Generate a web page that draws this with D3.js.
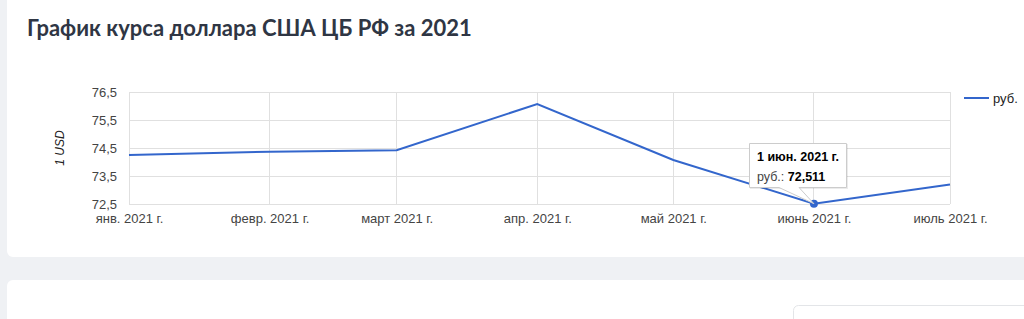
<!DOCTYPE html>
<html>
<head>
<meta charset="utf-8">
<script src="https://cdn.jsdelivr.net/npm/d3@7"></script>
<style>
  body { margin: 0; background: #eff1f4; overflow: hidden; }
  svg { display: block; }
</style>
</head>
<body>
<svg width="1024" height="319"></svg>
<script>
const title = 'График курса доллара США ЦБ РФ за 2021'
const dates = ['2021-01-01', '2021-02-01', '2021-03-01', '2021-04-01', '2021-05-01', '2021-06-01', '2021-07-01']
const monthLabels = ['янв. 2021 г.', 'февр. 2021 г.', 'март 2021 г.', 'апр. 2021 г.', 'май 2021 г.', 'июнь 2021 г.', 'июль 2021 г.']
const rates = [74.25, 74.37, 74.42, 76.07, 74.07, 72.511, 73.2]
const yTicks = [72.5, 73.5, 74.5, 75.5, 76.5]
const seriesName = 'руб.'
const tipIndex = 5
const tipTitle = '1 июн. 2021 г.'

const ru = d3.formatLocale({ decimal: ',', thousands: '\u00a0', grouping: [3], currency: ['', ' руб.'] })
const fmtTick = ru.format('.1f')
const fmtTip = ru.format('.3f')

const root = d3.select('svg')
const parse = d3.timeParse('%Y-%m-%d')
const data = dates.map((d, i) => ({ date: parse(d), value: rates[i], label: monthLabels[i] }))

const plot = { left: 129, right: 950, top: 92, bottom: 204 }
const font = 'Arial, "Liberation Sans", sans-serif'

// cards
root.append('rect')
  .attr('x', 7).attr('y', -10).attr('width', 1030).attr('height', 267)
  .attr('rx', 6).attr('fill', '#fff')
root.append('rect')
  .attr('x', 7).attr('y', 280).attr('width', 1030).attr('height', 60)
  .attr('rx', 6).attr('fill', '#fff')
root.append('rect')
  .attr('x', 793.5).attr('y', 305.5).attr('width', 260).attr('height', 40)
  .attr('rx', 5).attr('fill', '#fff').attr('stroke', '#e3e5e8')

root.append('text')
  .attr('x', 27).attr('y', 36)
  .attr('font-family', 'Lato, sans-serif')
  .attr('font-weight', 700)
  .attr('font-size', 22)
  .attr('fill', '#2f3644')
  .text(title)

const x = d3.scaleTime()
  .domain(d3.extent(data, d => d.date))
  .range([plot.left, plot.right])

const y = d3.scaleLinear()
  .domain([yTicks[0], yTicks[yTicks.length - 1]])
  .range([plot.bottom, plot.top])

const grid = root.append('g').attr('stroke', '#e0e0e0').attr('shape-rendering', 'crispEdges')
grid.selectAll('.h')
  .data(yTicks)
  .enter().append('line')
  .attr('x1', plot.left).attr('x2', plot.right)
  .attr('y1', d => y(d)).attr('y2', d => y(d))
grid.selectAll('.v')
  .data(data)
  .enter().append('line')
  .attr('x1', d => x(d.date)).attr('x2', d => x(d.date))
  .attr('y1', plot.top).attr('y2', plot.bottom)

// y axis
const yAxis = root.append('g')
  .attr('transform', `translate(${plot.left - 12},0)`)
  .call(d3.axisLeft(y).tickValues(yTicks).tickFormat(fmtTick).tickSize(0).tickPadding(0))
yAxis.select('.domain').remove()
yAxis.selectAll('text')
  .attr('font-family', font).attr('font-size', 13).attr('fill', '#444')

// x axis
const xAxis = root.append('g')
  .attr('transform', `translate(0,${plot.bottom + 10})`)
  .call(d3.axisBottom(x).tickValues(data.map(d => d.date)).tickFormat((d, i) => monthLabels[i]).tickSize(0).tickPadding(0))
xAxis.select('.domain').remove()
xAxis.selectAll('text')
  .attr('font-family', font).attr('font-size', 13).attr('fill', '#444')

root.append('text')
  .attr('transform', `translate(64,${(plot.top + plot.bottom) / 2}) rotate(-90)`)
  .attr('text-anchor', 'middle')
  .attr('font-family', font).attr('font-size', 12).attr('font-style', 'italic').attr('fill', '#222')
  .text('1 USD')

const line = d3.line().x(d => x(d.date)).y(d => y(d.value))
root.append('path')
  .datum(data)
  .attr('d', line)
  .attr('fill', 'none')
  .attr('stroke', '#3366cc')
  .attr('stroke-width', 2)

// legend
const legend = root.append('g').attr('transform', 'translate(964,98)')
legend.append('line').attr('x1', 0).attr('x2', 25).attr('stroke', '#3366cc').attr('stroke-width', 2)
legend.append('text')
  .attr('x', 29).attr('y', 4.5)
  .attr('font-family', font).attr('font-size', 13).attr('fill', '#222')
  .text(seriesName)

// tooltip
const tp = data[tipIndex]
const px = x(tp.date), py = y(tp.value)
root.append('circle')
  .attr('cx', px).attr('cy', py).attr('r', 4)
  .attr('fill', '#3366cc')

const tip = root.append('g').attr('transform', 'translate(749,143)')
const bw = 98, bh = 45
tip.append('rect')
  .attr('x', 1).attr('y', 1).attr('width', bw).attr('height', bh)
  .attr('fill', '#000').attr('opacity', 0.08)
tip.append('path')
  .attr('d', `M0.5,0.5 H${bw - 0.5} V${bh - 0.5} H50 L${px - 749},${py - 143} L30,${bh - 0.5} H0.5 Z`)
  .attr('fill', '#fff').attr('stroke', '#cccccc')
const tt = tip.append('text').attr('font-family', font).attr('font-size', 12.5).attr('fill', '#000')
tt.append('tspan').attr('x', 8).attr('y', 18).attr('font-weight', 700).text(tipTitle)
const t2 = tip.append('text').attr('x', 8).attr('y', 38).attr('font-family', font).attr('font-size', 12.5)
t2.append('tspan').attr('fill', '#444').text(seriesName + ': ')
t2.append('tspan').attr('font-weight', 700).attr('fill', '#000').text(fmtTip(tp.value))
</script>
</body>
</html>
